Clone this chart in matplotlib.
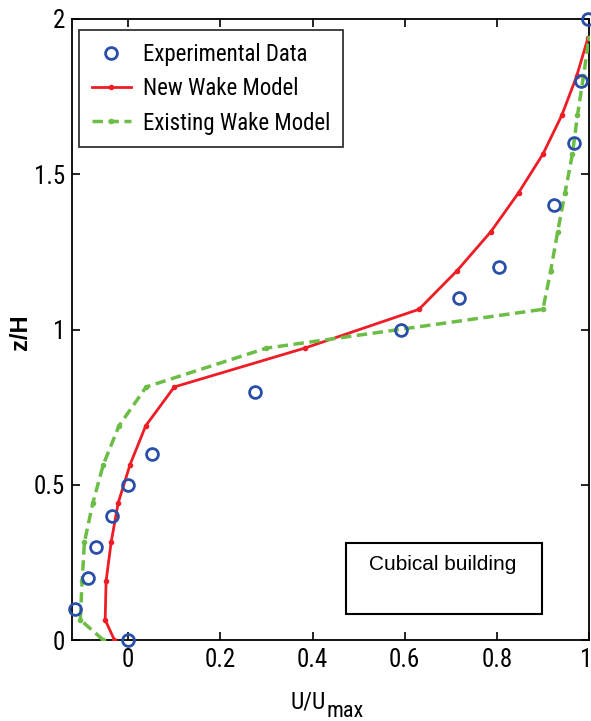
import matplotlib
matplotlib.use("Agg")
import matplotlib.pyplot as plt
from matplotlib.patches import Rectangle
from matplotlib.transforms import ScaledTranslation

# ---- data ----
exp_u = [0.0, -0.115, -0.087, -0.07, -0.036, 0.0, 0.052, 0.276, 0.591, 0.717, 0.804, 0.925, 0.967, 0.983, 0.997]
exp_z = [0.0, 0.1, 0.2, 0.3, 0.4, 0.5, 0.6, 0.8, 1.0, 1.1, 1.2, 1.4, 1.6, 1.8, 2.0]

model_z = [0.0, 0.065, 0.19, 0.315, 0.44, 0.565, 0.69, 0.815, 0.94, 1.065, 1.19, 1.315, 1.44, 1.565, 1.69, 1.815, 1.94]
new_u = [-0.03, -0.05, -0.048, -0.037, -0.022, 0.004, 0.038, 0.1, 0.383, 0.631, 0.714, 0.787, 0.847, 0.9, 0.941, 0.973, 0.998]
old_u = [-0.054, -0.104, -0.1, -0.095, -0.077, -0.054, -0.02, 0.039, 0.3, 0.9, 0.917, 0.932, 0.948, 0.964, 0.975, 0.988, 1.0]

xticks = [0, 0.2, 0.4, 0.6, 0.8, 1]
xticklabels = ["0", "0.2", "0.4", "0.6", "0.8", "1"]
yticks = [0, 0.5, 1, 1.5, 2]
yticklabels = ["0", "0.5", "1", "1.5", "2"]

narrow = ['Liberation Sans Narrow', 'Roboto Condensed', 'Liberation Sans', 'DejaVu Sans']
plt.rcParams['font.family'] = narrow

W, H = 591, 721
fig = plt.figure(figsize=(W / 100, H / 100), dpi=100)
ax = fig.add_axes([72 / W, (H - 640) / H, (589 - 72) / W, (640 - 19) / H])

blue = '#2a4fa8'
red = '#ee1c25'
green = '#6cbd45'

ax.plot(exp_u, exp_z, linestyle='none', marker='o', markersize=8.5,
        markerfacecolor='none', markeredgecolor=blue, markeredgewidth=2.0,
        label='Experimental Data', zorder=4, clip_on=False)
ax.plot(new_u, model_z, color=red, linewidth=2.0, marker='.', markersize=6,
        label='New Wake Model', zorder=3)
ax.plot(old_u, model_z, color=green, linewidth=2.5, linestyle=(0, (3, 1.6)),
        marker='.', markersize=6, label='Existing Wake Model', zorder=3)

ax.set_xlim(-0.122, 1.0)
ax.set_ylim(0, 2)
ax.set_xticks(xticks)
ax.set_xticklabels(xticklabels)
ax.set_yticks(yticks)
ax.set_yticklabels(yticklabels)
ax.tick_params(direction='in', length=6, width=1.2, top=True, right=True,
               labelsize=18)
ax.tick_params(axis='x', pad=6)
ax.tick_params(axis='y', pad=5)
for s in ax.spines.values():
    s.set_linewidth(1.3)

# nudge the last x tick label so it stays inside the figure edge
last = ax.get_xticklabels()[-1]
last.set_transform(last.get_transform() + ScaledTranslation(-3 / 100, 0, fig.dpi_scale_trans))

# x label with dropped subscript
fig.text(326 / W, (H - 708) / H, 'U/U', fontsize=17, ha='right', va='baseline')
fig.text(327 / W, (H - 717) / H, 'max', fontsize=16, ha='left', va='baseline')
# y label
fig.text(20 / W, (H - 332) / H, 'z/H', fontsize=17, fontweight='bold',
         family=['Liberation Sans', 'DejaVu Sans'],
         rotation=90, ha='center', va='center')

leg = ax.legend(loc='upper left', bbox_to_anchor=((79 - 72) / 517, (640 - 30) / 621),
                fontsize=16.5, frameon=True, fancybox=False, edgecolor='black',
                handlelength=1.7, handletextpad=0.55, borderpad=0.55,
                labelspacing=0.5, borderaxespad=0)
leg.get_frame().set_linewidth(1.3)

ax.text((443 - 72) / 517, (640 - 565) / 621, 'Cubical building', transform=ax.transAxes,
        fontsize=15, family=['Liberation Sans', 'DejaVu Sans'],
        ha='center', va='center')
ax.add_patch(Rectangle(((346 - 72) / 517, (640 - 614) / 621), (542 - 346) / 517, (614 - 543) / 621,
                       transform=ax.transAxes, fill=False, edgecolor='black',
                       linewidth=1.5, zorder=5))

fig.savefig('out.png', dpi=100)
